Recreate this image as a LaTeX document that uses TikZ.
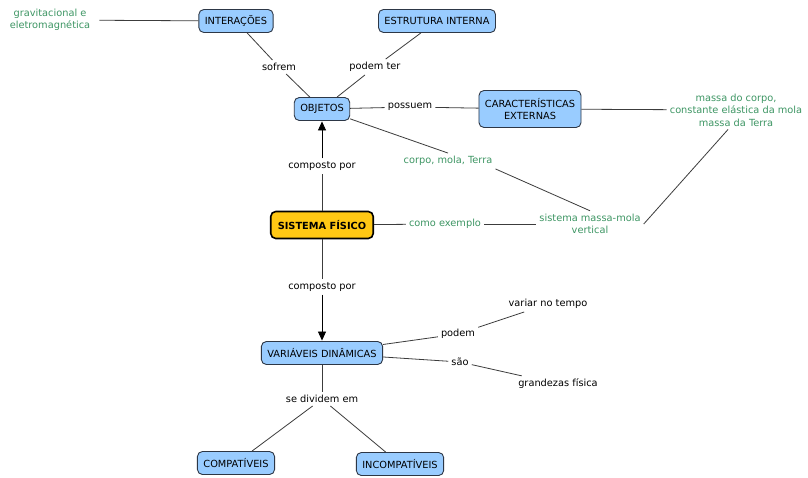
\documentclass[tikz,border=0pt]{standalone}
\usepackage{fontspec}
\setmainfont{DejaVu Sans}
\usetikzlibrary{arrows.meta}
\definecolor{boxfill}{RGB}{153,204,255}
\definecolor{boxline}{RGB}{45,55,70}
\definecolor{mapgreen}{RGB}{62,150,100}
\definecolor{linkgray}{RGB}{60,60,60}
\definecolor{sysfill}{RGB}{255,200,20}
\tikzset{
  concept/.style={draw=boxline, line width=0.9pt, fill=boxfill, rounded corners=5pt,
    align=center, inner xsep=6pt, minimum height=23pt, font=\fontsize{9.8}{12}\selectfont},
  mainconcept/.style={concept, draw=black, line width=1.6pt, fill=sysfill,
    minimum height=27pt, inner xsep=7pt, font=\fontsize{9.8}{12}\selectfont\bfseries},
  phrase/.style={align=center, inner sep=3pt, font=\fontsize{9.8}{12}\selectfont},
  gphrase/.style={phrase, text=mapgreen, font=\fontsize{9.8}{12.5}\selectfont},
  link/.style={draw=linkgray, line width=0.8pt},
  arrowlink/.style={link, draw=black, -{Triangle[length=9pt,width=8pt]}, shorten >=0.5pt}
}
\begin{document}
\begin{tikzpicture}[x=1pt,y=-1pt]
\useasboundingbox (0,0) rectangle (808,477);
\fill[white] (0,0) rectangle (808,477);

% concepts
\node[concept] (inter) at (236,21) {INTERAÇÕES};
\node[concept] (estr) at (437,21) {ESTRUTURA INTERNA};
\node[concept] (obj) at (322,109) {OBJETOS};
\node[concept, minimum height=37pt] (carac) at (530,109) {CARACTERÍSTICAS\\EXTERNAS};
\node[mainconcept] (sist) at (322,225) {SISTEMA FÍSICO};
\node[concept] (var) at (322,353) {VARIÁVEIS DINÂMICAS};
\node[concept] (comp) at (236,463) {COMPATÍVEIS};
\node[concept] (incomp) at (400,464) {INCOMPATÍVEIS};

% linking phrases and leaf texts
\node[gphrase] (grav) at (50,20) {gravitacional e\\eletromagnética};
\node[phrase] (sofrem) at (279,67) {sofrem};
\node[phrase] (podter) at (375,67) {podem ter};
\node[phrase] (possuem) at (410,107) {possuem};
\node[gphrase] (massa) at (736,110) {massa do corpo,\\constante elástica da mola\\massa da Terra};
\node[gphrase] (corpo) at (448,161) {corpo, mola, Terra};
\node[phrase] (compA) at (322,166) {composto por};
\node[gphrase] (exemplo) at (445,224) {como exemplo};
\node[gphrase] (smm) at (590,224) {sistema massa-mola\\vertical};
\node[phrase] (compB) at (322,287) {composto por};
\node[phrase] (variar) at (548,304) {variar no tempo};
\node[phrase] (podem) at (458,334) {podem};
\node[phrase] (sao) at (460,362) {são};
\node[phrase] (grand) at (558,384) {grandezas física};
\node[phrase] (divid) at (322,399) {se dividem em};

% connectors
\draw[link, shorten <=6pt] (grav) -- (inter);
\draw[link] (inter) -- (sofrem);
\draw[link] (sofrem) -- (obj);
\draw[link] (estr) -- (podter);
\draw[link] (podter) -- (obj);
\draw[link] (obj) -- (possuem);
\draw[link] (possuem) -- (carac);
\draw[link] (carac) -- (massa);
\draw[link] (obj) -- (corpo.north);
\draw[link] (corpo.south east) -- (smm.north);
\draw[link] (smm.east) -- ([xshift=-8pt]massa.south);
\draw[link] (sist) -- (compA);
\draw[arrowlink] (compA) -- (obj);
\draw[link] (sist) -- (exemplo);
\draw[link] (exemplo) -- (smm);
\draw[link] (sist) -- (compB);
\draw[arrowlink] (compB) -- (var);
\draw[link] (var) -- (podem);
\draw[link] (podem) -- (variar);
\draw[link] (var) -- (sao);
\draw[link] (sao) -- (grand);
\draw[link] (var) -- (divid);
\draw[link] (divid) -- (comp);
\draw[link] (divid) -- (incomp);
\end{tikzpicture}
\end{document}
